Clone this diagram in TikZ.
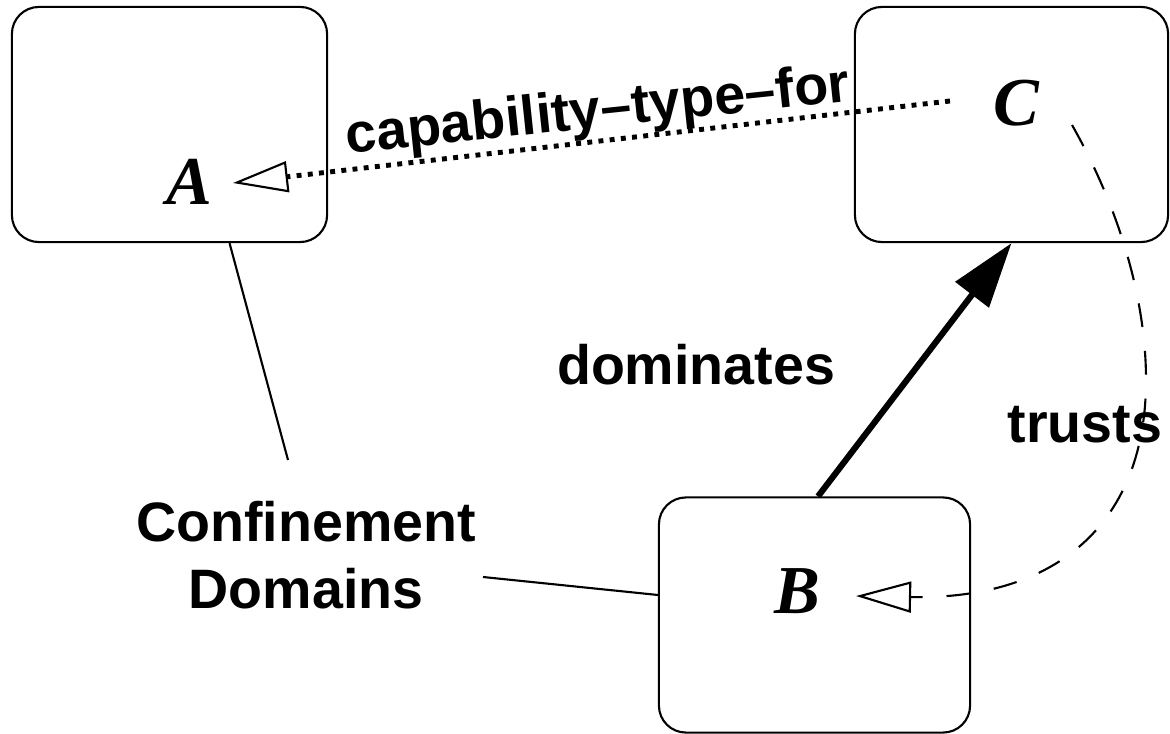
\documentclass[tikz,border=0pt]{standalone}
\usepackage{fontspec}
\setmainfont{Liberation Sans}
\newfontfamily\letterfont{Liberation Serif}
\usetikzlibrary{arrows.meta}

\begin{document}
\begin{tikzpicture}[x=0.01cm, y=-0.01cm,
		domainbox/.style={draw, line width=0.6pt, rounded corners=0.27cm, minimum height=2.35cm},
		letter/.style={font=\letterfont\bfseries\itshape\fontsize{19.5}{22}\selectfont, inner sep=0pt},
		lbl/.style={font=\bfseries\fontsize{15.8}{19}\selectfont, inner sep=0pt},
		opentip/.style={-{Triangle[open, length=0.55cm, width=0.31cm, line width=0.6pt]}}]
		\useasboundingbox (0,0) rectangle (1170,734);
		\node[domainbox, minimum width=3.15cm] (boxA) at (169.5,124.5) {};
		\node[domainbox, minimum width=3.13cm] (boxC) at (1011.5,124.5) {};
		\node[domainbox, minimum width=3.11cm] (boxB) at (814.5,615) {};
		\node[letter] (labA) at (189,182) {A};
		\node[letter] (labC) at (1016,103) {C};
		\node[letter] (labB) at (797,591) {B};
		\node[lbl, rotate=6] (capType) at (598,113) {capability--type--for};
		\node[lbl] (domin) at (696,365) {dominates};
		\node[lbl] (trust) at (1085,425) {trusts};
		\node[lbl, align=center] (conf) at (306,555) {Confinement\\Domains};
		\coordinate (confA) at (288,460);
		\coordinate (confB) at (483,577);
		\draw[opentip, line width=1.4pt, dash pattern=on 1.4pt off 1.8pt] ([xshift=-0.66cm, yshift=0.02cm]labC.center) -- ([xshift=0.44cm, yshift=-0.01cm]labA.center);
		\draw[-{Triangle[length=0.65cm, width=0.41cm]}, line width=1.75pt] ([xshift=0.035cm]boxB.north) -- (boxC.south);
		\draw[opentip, line width=0.6pt, dash pattern=on 6.8pt off 6.8pt] ([xshift=0.56cm, yshift=-0.22cm]labC.center) .. controls (1120,210) and (1146,300) .. (1146,380) .. controls (1146,520) and (1060,600) .. ([xshift=0.59cm, yshift=-0.05cm]labB.center);
		\draw[line width=0.6pt] ([xshift=0.6cm]boxA.south) -- (confA);
		\draw[line width=0.6pt] (confB) -- ([yshift=0.2cm]boxB.west);
\end{tikzpicture}
\end{document}
